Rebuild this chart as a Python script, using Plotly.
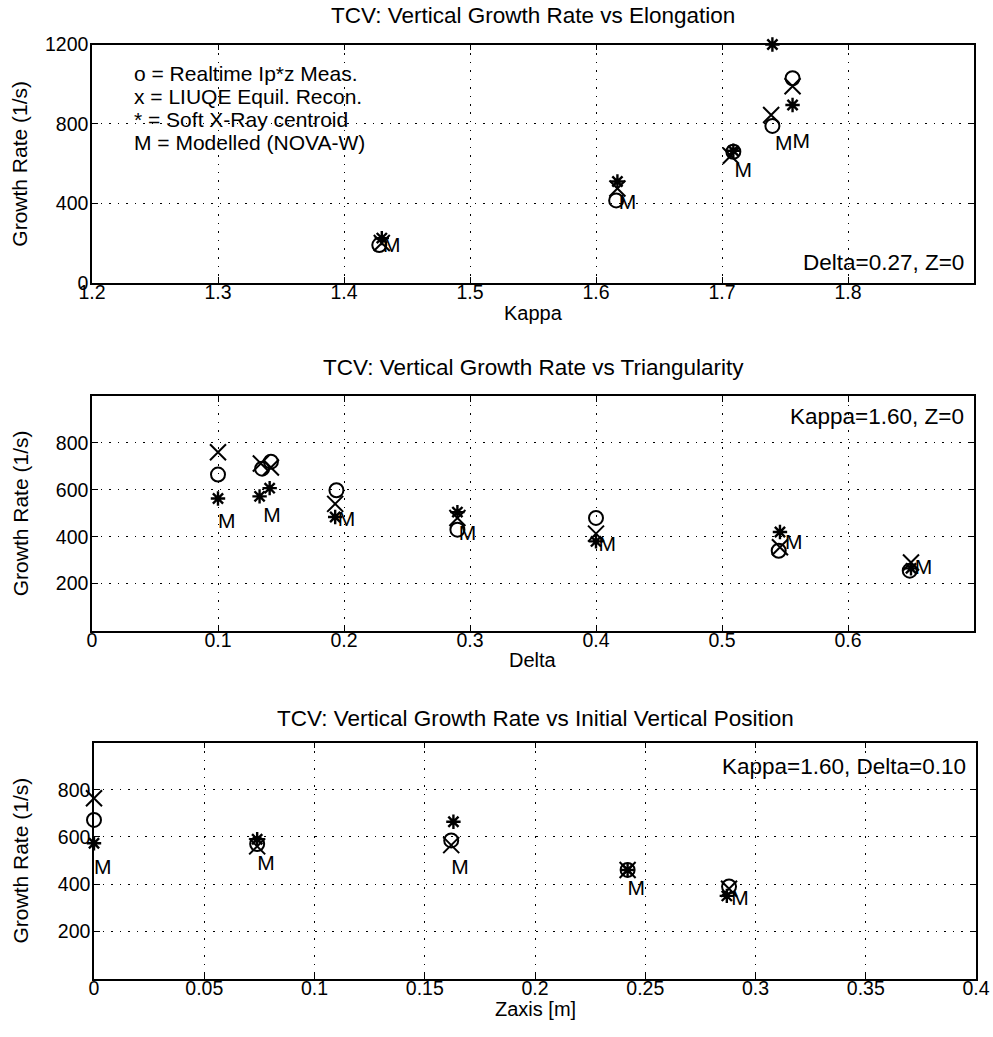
import plotly.graph_objects as go

# ---- Growth rate vs elongation (Delta=0.27, Z=0) ----
kappa_meas = [1.428, 1.616, 1.709, 1.740, 1.756]
rate_kappa_meas = [190, 415, 660, 790, 1030]
kappa_liuqe = [1.430, 1.617, 1.707, 1.739, 1.756]
rate_kappa_liuqe = [200, 475, 640, 845, 990]
kappa_sxr = [1.430, 1.617, 1.709, 1.740, 1.756]
rate_kappa_sxr = [225, 510, 665, 1200, 895]
kappa_model = [1.431, 1.618, 1.710, 1.742, 1.756]
rate_kappa_model = [180, 400, 560, 695, 705]

# ---- Growth rate vs triangularity (Kappa=1.60, Z=0) ----
delta_meas = [0.100, 0.135, 0.142, 0.194, 0.290, 0.400, 0.545, 0.649]
rate_delta_meas = [665, 690, 720, 598, 430, 480, 340, 255]
delta_liuqe = [0.100, 0.134, 0.142, 0.193, 0.290, 0.400, 0.546, 0.650]
rate_delta_liuqe = [760, 712, 695, 540, 480, 413, 355, 290]
delta_sxr = [0.100, 0.133, 0.141, 0.193, 0.290, 0.400, 0.546, 0.650]
rate_delta_sxr = [563, 572, 607, 484, 505, 380, 420, 265]
delta_model = [0.100, 0.136, 0.195, 0.291, 0.402, 0.550, 0.653]
rate_delta_model = [458, 487, 470, 410, 363, 370, 264]

# ---- Growth rate vs initial vertical position (Kappa=1.60, Delta=0.10) ----
z_meas = [0.000, 0.074, 0.162, 0.242, 0.288]
rate_z_meas = [672, 570, 585, 460, 390]
z_liuqe = [0.000, 0.074, 0.162, 0.242, 0.288]
rate_z_liuqe = [764, 560, 565, 460, 380]
z_sxr = [0.000, 0.074, 0.163, 0.242, 0.287]
rate_z_sxr = [573, 590, 664, 460, 350]
z_model = [0.000, 0.074, 0.162, 0.242, 0.289]
rate_z_model = [467, 481, 465, 378, 333]

kappa_ticks = [1.2, 1.3, 1.4, 1.5, 1.6, 1.7, 1.8]
delta_ticks = [0, 0.1, 0.2, 0.3, 0.4, 0.5, 0.6]
z_ticks = [0, 0.05, 0.1, 0.15, 0.2, 0.25, 0.3, 0.35, 0.4]
rate_ticks_top = [0, 400, 800, 1200]
rate_ticks = [200, 400, 600, 800]

W, H = 993, 1037
FONT = "Liberation Sans, Arial, Helvetica, sans-serif"


def fx(px):
    return px / W


def fy(px):
    return 1 - px / H


# panel geometry in pixels: (left, right, top, bottom)
panels = [
    (92, 974, 44.5, 282.8),
    (92, 974, 396.0, 630.5),
    (94, 976, 742.5, 978.5),
]

fig = go.Figure()


def add_series(xs_meas, ys_meas, xs_liuqe, ys_liuqe, xs_sxr, ys_sxr, xs_mod, ys_mod, n):
    xa = "x" if n == 1 else f"x{n}"
    ya = "y" if n == 1 else f"y{n}"
    fig.add_trace(go.Scatter(
        x=xs_meas, y=ys_meas, mode="markers", xaxis=xa, yaxis=ya, cliponaxis=False,
        marker=dict(symbol="circle-open", size=14, color="black", line=dict(width=2, color="black"))))
    fig.add_trace(go.Scatter(
        x=xs_liuqe, y=ys_liuqe, mode="markers", xaxis=xa, yaxis=ya, cliponaxis=False,
        marker=dict(symbol="x-thin-open", size=16, color="black", line=dict(width=2, color="black"))))
    fig.add_trace(go.Scatter(
        x=xs_sxr, y=ys_sxr, mode="markers", xaxis=xa, yaxis=ya, cliponaxis=False,
        marker=dict(symbol="asterisk-open", size=12, color="black", line=dict(width=2.4, color="black"))))
    fig.add_trace(go.Scatter(
        x=xs_mod, y=ys_mod, mode="text", text=["M"] * len(xs_mod), textposition="middle right",
        xaxis=xa, yaxis=ya, cliponaxis=False,
        textfont=dict(family=FONT, size=21, color="black")))


add_series(kappa_meas, rate_kappa_meas, kappa_liuqe, rate_kappa_liuqe,
           kappa_sxr, rate_kappa_sxr, kappa_model, rate_kappa_model, 1)
add_series(delta_meas, rate_delta_meas, delta_liuqe, rate_delta_liuqe,
           delta_sxr, rate_delta_sxr, delta_model, rate_delta_model, 2)
add_series(z_meas, rate_z_meas, z_liuqe, rate_z_liuqe,
           z_sxr, rate_z_sxr, z_model, rate_z_model, 3)

axis_common = dict(
    showline=True, linecolor="black", linewidth=1.5, mirror="allticks",
    ticks="inside", ticklen=6, tickwidth=1.2, tickcolor="black",
    showgrid=True, gridcolor="black", gridwidth=1, griddash="1.5px,7px",
    zeroline=False, tickfont=dict(family=FONT, size=19.5, color="black"),
    fixedrange=True, automargin=False,
)

x_specs = [
    dict(range=[1.2, 1.9], tickvals=kappa_ticks, ticktext=[f"{v:g}" for v in kappa_ticks]),
    dict(range=[0, 0.7], tickvals=delta_ticks, ticktext=[f"{v:g}" for v in delta_ticks]),
    dict(range=[0, 0.4], tickvals=z_ticks, ticktext=[f"{v:g}" for v in z_ticks]),
]
y_specs = [
    dict(range=[0, 1200], tickvals=rate_ticks_top, ticktext=[str(v) for v in rate_ticks_top]),
    dict(range=[0, 1000], tickvals=rate_ticks, ticktext=[str(v) for v in rate_ticks]),
    dict(range=[0, 1000], tickvals=rate_ticks, ticktext=[str(v) for v in rate_ticks]),
]

layout_axes = {}
for i, ((l, r, t, b), xs, ys) in enumerate(zip(panels, x_specs, y_specs), start=1):
    xk = "xaxis" if i == 1 else f"xaxis{i}"
    yk = "yaxis" if i == 1 else f"yaxis{i}"
    ya = "y" if i == 1 else f"y{i}"
    xa = "x" if i == 1 else f"x{i}"
    layout_axes[xk] = dict(axis_common, domain=[fx(l), fx(r)], anchor=ya, ticklabelstandoff=-9, **xs)
    layout_axes[yk] = dict(axis_common, domain=[fy(b), fy(t)], anchor=xa, ticklabelstandoff=-2, **ys)

fig.update_layout(**layout_axes)

annotations = []


def text(x, y, s, size=18, xanchor="center", yanchor="middle", angle=0):
    annotations.append(dict(
        x=fx(x), y=fy(y), xref="paper", yref="paper", text=s, showarrow=False,
        xanchor=xanchor, yanchor=yanchor, textangle=angle,
        font=dict(family=FONT, size=size, color="black")))


titles = [
    "TCV: Vertical Growth Rate vs Elongation",
    "TCV: Vertical Growth Rate vs Triangularity",
    "TCV: Vertical Growth Rate vs Initial Vertical Position",
]
title_y = [15, 367, 718]
xlabels = ["Kappa", "Delta", "Zaxis [m]"]
xlabel_y = [313, 660, 1009]
notes = ["Delta=0.27, Z=0", "Kappa=1.60, Z=0", "Kappa=1.60, Delta=0.10"]
note_y = [263, 416, 766]

for (l, r, t, b), ttl, ty, xl, xy, nt, ny in zip(panels, titles, title_y, xlabels, xlabel_y, notes, note_y):
    cx = (l + r) / 2
    text(cx, ty, ttl, size=22.5)
    text(cx, xy, xl, size=20)
    text(20, (t + b) / 2, "Growth Rate (1/s)", size=21, angle=-90)
    text(r - 8, ny, nt, size=22.5, xanchor="right")

legend_lines = [
    "o = Realtime Ip*z Meas.",
    "x = LIUQE Equil. Recon.",
    "* = Soft X-Ray centroid",
    "M = Modelled (NOVA-W)",
]
for k, line in enumerate(legend_lines):
    text(132, 73 + 23.3 * k, line, size=21, xanchor="left")

fig.update_layout(
    template="none",
    width=W, height=H, autosize=False,
    margin=dict(l=0, r=0, t=0, b=0, pad=0),
    paper_bgcolor="white", plot_bgcolor="white",
    showlegend=False, annotations=annotations,
)

fig.write_html("out.html")
